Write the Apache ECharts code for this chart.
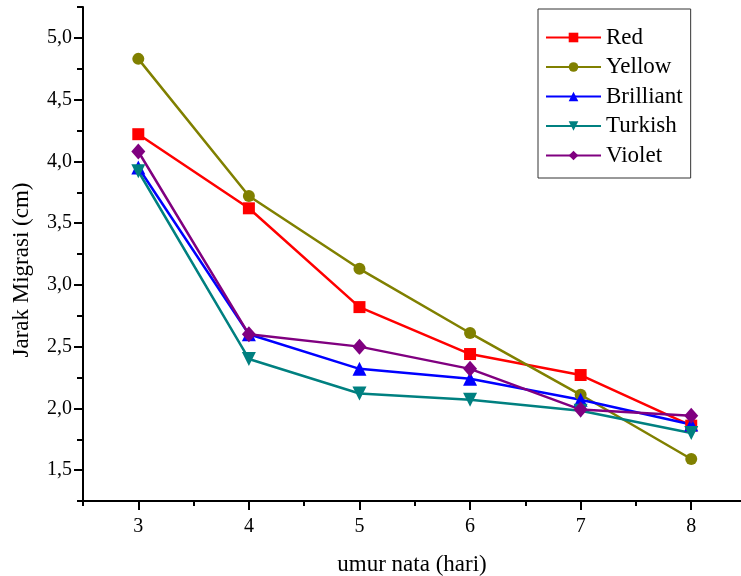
<!DOCTYPE html>
<html>
<head>
<meta charset="utf-8">
<script src="https://cdn.jsdelivr.net/npm/echarts@6/dist/echarts.min.js"></script>
<style>
  html, body { margin: 0; padding: 0; background: #fff; }
  #main { width: 741px; height: 576px; }
</style>
</head>
<body>
<div id="main"></div>
<script>
// umur nata (hari)
var days = [3, 4, 5, 6, 7, 8];
// jarak migrasi (cm) per warna
var red = [4.22, 3.62, 2.82, 2.44, 2.27, 1.86];
var yellow = [4.83, 3.72, 3.13, 2.61, 2.11, 1.59];
var brilliant = [3.95, 2.60, 2.32, 2.24, 2.07, 1.87];
var turkish = [3.92, 2.40, 2.12, 2.07, 1.98, 1.80];
var violet = [4.08, 2.60, 2.50, 2.32, 1.99, 1.94];

var xMajor = [3, 4, 5, 6, 7, 8];
var xMinor = [2.5, 3.5, 4.5, 5.5, 6.5, 7.5];
var yMajor = [1.5, 2.0, 2.5, 3.0, 3.5, 4.0, 4.5, 5.0];
var yMinor = [1.25, 1.75, 2.25, 2.75, 3.25, 3.75, 4.25, 4.75, 5.25];

var font = "Liberation Serif";

function pairs(ys) {
    return days.map(function(d, i) { return [d, ys[i]]; });
}

function makeSeries(name, ys, color, symbol, size, rotate) {
    return {
        name: name,
        type: 'line',
        data: pairs(ys),
        symbol: symbol,
        symbolSize: size,
        symbolRotate: rotate || 0,
        lineStyle: { color: color, width: 2.5 },
        itemStyle: { color: color },
        emphasis: { disabled: true }
    };
}

var myChart = echarts.init(document.getElementById('main'));

var option = {
    animation: false,
    backgroundColor: '#fff',
    grid: { left: 83, right: 0, top: 7, bottom: 75, outerBoundsMode: 'none' },
    legend: {
        orient: 'vertical',
        left: 538,
        top: 9,
        itemWidth: 55,
        itemHeight: 12,
        itemGap: 6.5,
        padding: [17, 8, 11, 7],
        borderColor: '#333',
        borderWidth: 1,
        textStyle: { fontFamily: font, fontSize: 23, color: '#000' },
        data: ['Red', 'Yellow', 'Brilliant', 'Turkish', 'Violet']
    },
    xAxis: [{
        type: 'value',
        min: 2.5,
        max: 8.45,
        name: 'umur nata (hari)',
        nameLocation: 'middle',
        nameGap: 52,
        nameTextStyle: { fontFamily: font, fontSize: 23, color: '#000' },
        axisLine: { lineStyle: { color: '#000', width: 2 } },
        axisTick: { customValues: xMajor, length: 9, lineStyle: { color: '#000', width: 2 } },
        axisLabel: { customValues: xMajor, margin: 16, fontFamily: font, fontSize: 20, color: '#000' },
        splitLine: { show: false }
    }, {
        type: 'value',
        min: 2.5,
        max: 8.45,
        position: 'bottom',
        axisLine: { show: false },
        axisTick: { customValues: xMinor, length: 5, lineStyle: { color: '#000', width: 2 } },
        axisLabel: { show: false },
        splitLine: { show: false }
    }],
    yAxis: [{
        type: 'value',
        min: 1.25,
        max: 5.25,
        name: 'Jarak Migrasi (cm)',
        nameLocation: 'middle',
        nameGap: 50,
        nameTextStyle: { fontFamily: font, fontSize: 23, color: '#000', padding: [0, 32, 0, 0] },
        axisLine: { show: true, lineStyle: { color: '#000', width: 2 } },
        axisTick: { show: true, customValues: yMajor, length: 9, lineStyle: { color: '#000', width: 2 } },
        axisLabel: {
            customValues: yMajor,
            margin: 11,
            fontFamily: font,
            fontSize: 20,
            color: '#000',
            formatter: function(v) { return v.toFixed(1).replace('.', ','); }
        },
        splitLine: { show: false }
    }, {
        type: 'value',
        min: 1.25,
        max: 5.25,
        position: 'left',
        axisLine: { show: false },
        axisTick: { show: true, customValues: yMinor, length: 6, lineStyle: { color: '#000', width: 2 } },
        axisLabel: { show: false },
        splitLine: { show: false }
    }],
    series: [
        makeSeries('Red', red, '#ff0000', 'rect', 12),
        makeSeries('Yellow', yellow, '#808000', 'circle', 12),
        makeSeries('Brilliant', brilliant, '#0000ff', 'triangle', 14),
        makeSeries('Turkish', turkish, '#008080', 'triangle', 14, 180),
        makeSeries('Violet', violet, '#800080', 'diamond', [14, 16])
    ]
};

myChart.setOption(option);
</script>
</body>
</html>
